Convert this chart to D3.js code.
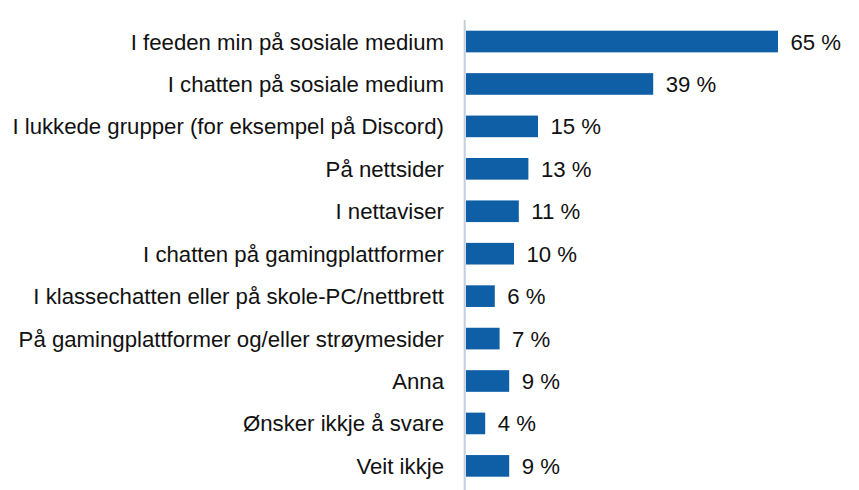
<!DOCTYPE html>
<html>
<head>
<meta charset="utf-8">
<script src="https://cdn.jsdelivr.net/npm/d3@7"></script>
<style>
  html, body { margin: 0; padding: 0; background: #fff; }
  svg { display: block; }
  text { font-family: "Liberation Sans", Arial, sans-serif; fill: #111; }
</style>
</head>
<body>
<svg id="chart" width="859" height="490"></svg>
<script>
const categories = [
  "I feeden min på sosiale medium",
  "I chatten på sosiale medium",
  "I lukkede grupper (for eksempel på Discord)",
  "På nettsider",
  "I nettaviser",
  "I chatten på gamingplattformer",
  "I klassechatten eller på skole-PC/nettbrett",
  "På gamingplattformer og/eller strøymesider",
  "Anna",
  "Ønsker ikkje å svare",
  "Veit ikkje"
];
const values = [65, 39, 15, 13, 11, 10, 6, 7, 9, 4, 9];
const valueLabels = ["65 %", "39 %", "15 %", "13 %", "11 %", "10 %", "6 %", "7 %", "9 %", "4 %", "9 %"];

const svg = d3.select("#chart");
const x0 = 466;
const x = d3.scaleLinear().domain([0, 65]).range([x0, 778]);
const y = d3.scaleBand().domain(categories).range([20.3, 487.1])
  .paddingInner(0.49).paddingOuter(0.245);

const fontSize = 22.2;

// axis line
svg.append("line")
  .attr("x1", 464.7).attr("x2", 464.7)
  .attr("y1", 20).attr("y2", 490)
  .attr("stroke", "#c3cfe0").attr("stroke-width", 2);

// bars
svg.selectAll("rect.bar").data(values).enter().append("rect")
  .attr("class", "bar")
  .attr("x", x(0))
  .attr("y", (d, i) => y(categories[i]))
  .attr("width", d => x(d) - x(0))
  .attr("height", y.bandwidth())
  .attr("fill", "#0f5fa7");

// category labels
svg.selectAll("text.cat").data(categories).enter().append("text")
  .attr("class", "cat")
  .attr("x", 444)
  .attr("y", d => y(d) + y.bandwidth() / 2)
  .attr("dy", "0.36em")
  .attr("text-anchor", "end")
  .style("font-size", fontSize + "px")
  .text(d => d);

// value labels
svg.selectAll("text.val").data(values).enter().append("text")
  .attr("class", "val")
  .attr("x", d => x(d) + 12.5)
  .attr("y", (d, i) => y(categories[i]) + y.bandwidth() / 2)
  .attr("dy", "0.36em")
  .style("font-size", fontSize + "px")
  .text((d, i) => valueLabels[i]);
</script>
</body>
</html>
